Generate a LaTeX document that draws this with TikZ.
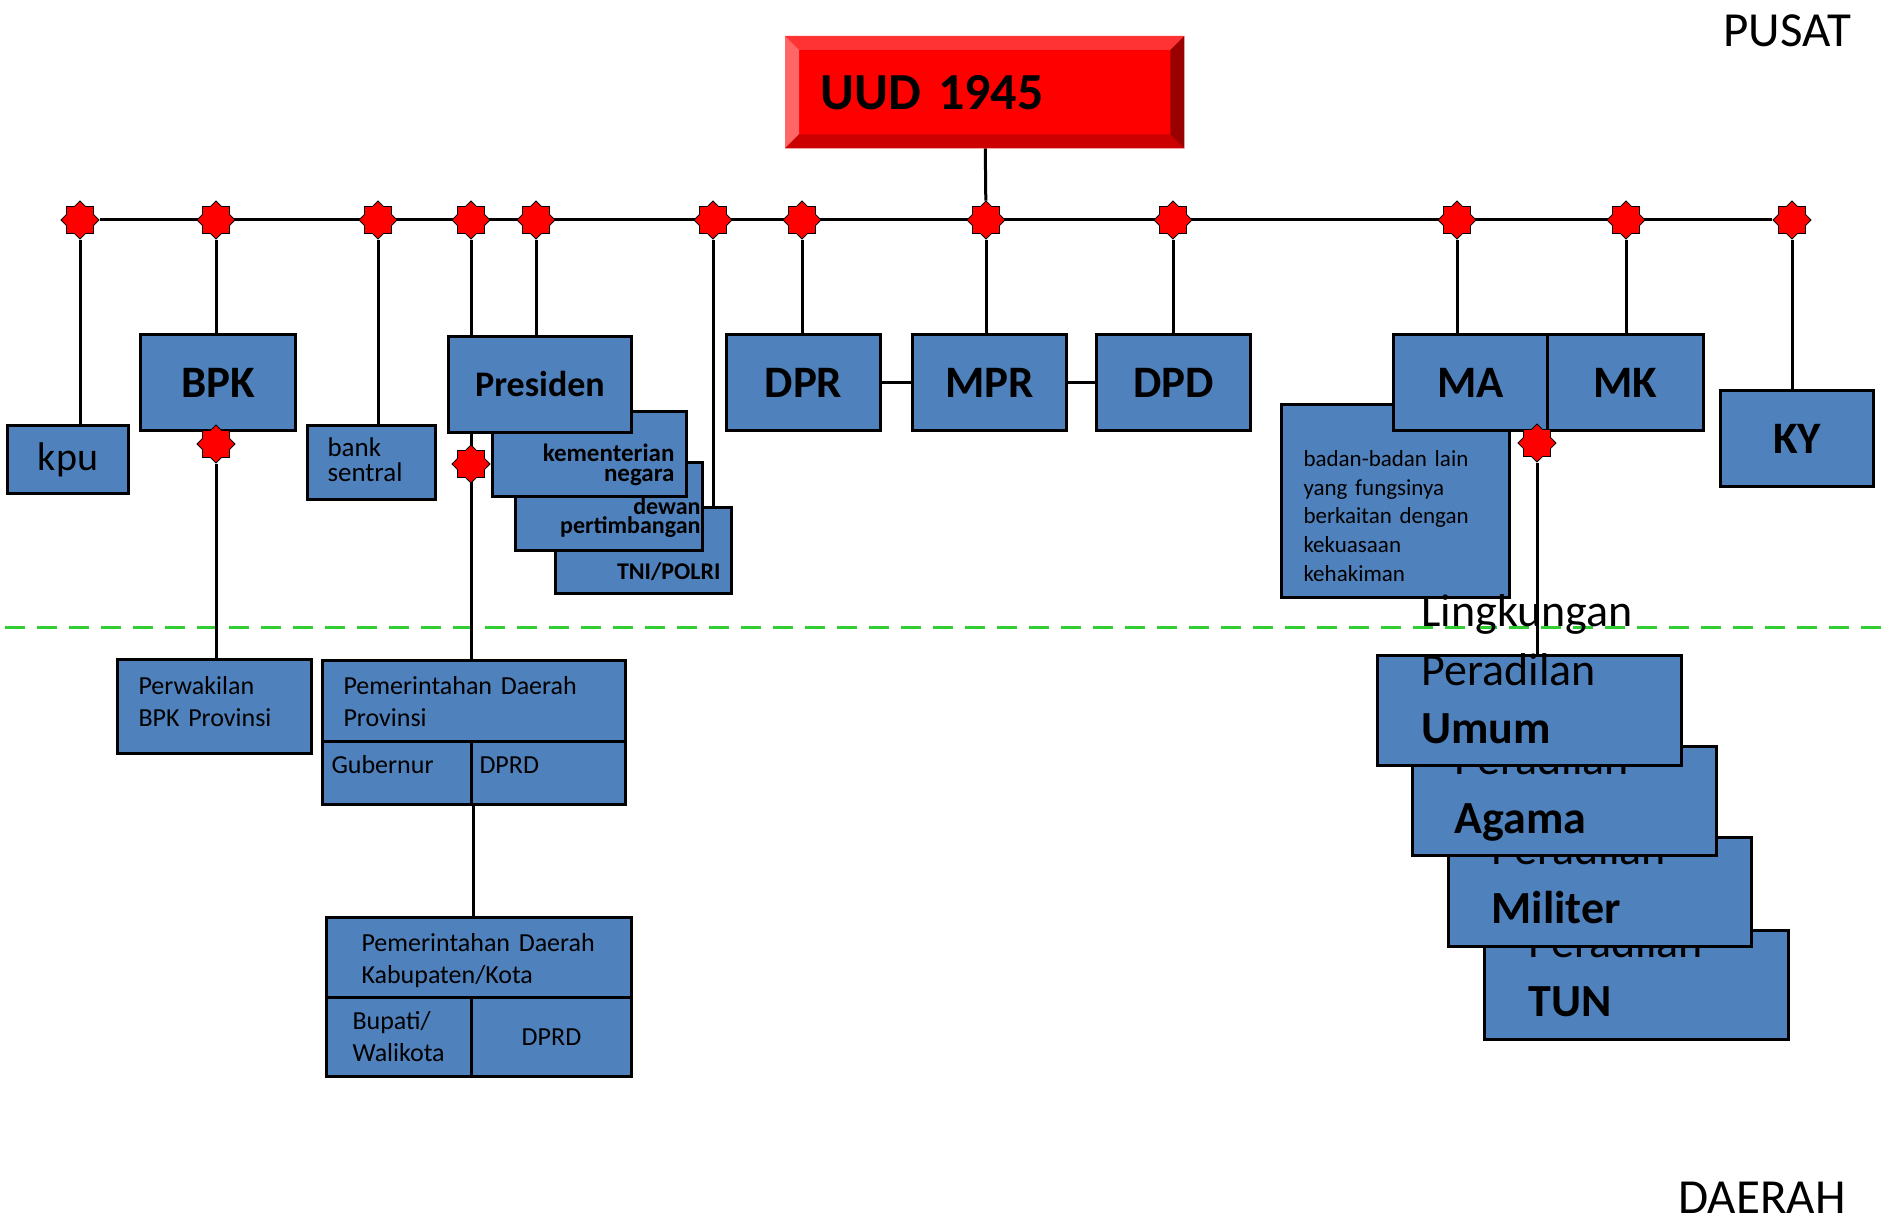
\documentclass[tikz,border=0pt]{standalone}
\usepackage{fontspec}
\setmainfont{Carlito}
\usetikzlibrary{shapes.geometric, backgrounds, calc}
\definecolor{kotak}{RGB}{79,129,189}
\definecolor{uudatas}{RGB}{255,51,51}
\definecolor{uudkiri}{RGB}{255,102,102}
\definecolor{uudbawah}{RGB}{204,0,0}
\definecolor{uudkanan}{RGB}{153,0,0}
\definecolor{batas}{RGB}{50,205,50}
\begin{document}
\begin{tikzpicture}[
    x=1pt, y=-1pt,
    box/.style={
        draw,
        fill=kotak,
        line width=3pt,
        anchor=north west,
        inner sep=0pt
    },
    big/.style={box, font=\fontsize{45}{54}\selectfont\bfseries},
    cell/.style={box, align=left},
    uudbox/.style={
        fill=red,
        anchor=north west,
        minimum width=399pt,
        minimum height=112pt,
        inner xsep=35pt,
        text width=329pt,
        align=left,
        font=\fontsize{52}{60}\selectfont\bfseries
    },
    bintang/.style={
        star,
        star points=8,
        star point ratio=1.3,
        minimum size=38pt,
        inner sep=0pt,
        fill=red,
        draw=black,
        line width=0.8pt
    },
    conn/.style={line width=3pt},
    wilayah/.style={anchor=base west, font=\fontsize{49}{58}\selectfont}
]
\useasboundingbox (0,0) rectangle (1883,1225);

% UUD 1945
\node[uudbox] (uud) at (785,36) {UUD 1945};
\fill[uudatas] (uud.north west) -- (uud.north east) -- ([shift={(-14,14)}]uud.north east) -- ([shift={(14,14)}]uud.north west) -- cycle;
\fill[uudkiri] (uud.north west) -- ([shift={(14,14)}]uud.north west) -- ([shift={(14,-14)}]uud.south west) -- (uud.south west) -- cycle;
\fill[uudbawah] (uud.south west) -- ([shift={(14,-14)}]uud.south west) -- ([shift={(-14,-14)}]uud.south east) -- (uud.south east) -- cycle;
\fill[uudkanan] (uud.north east) -- ([shift={(-14,14)}]uud.north east) -- ([shift={(-14,-14)}]uud.south east) -- (uud.south east) -- cycle;

\node[wilayah] (pusat) at (1720,47) {PUSAT};
\node[wilayah] (daerah) at (1675,1213) {DAERAH};

% pusat
\node[box, minimum width=121pt, minimum height=68pt, font=\fontsize{40}{48}\selectfont] (kpu) at (6,424) {kpu};
\node[big, minimum width=155pt, minimum height=96pt] (bpk) at (139,333) {BPK};
\node[cell, inner xsep=20pt, text width=88pt, text height=31pt, text depth=43pt,
      font=\fontsize{27}{25}\selectfont] (bank) at (306,424) {bank\\sentral};

\node[box, align=right, inner xsep=11pt, text width=154pt, text height=72pt, text depth=14pt,
      font=\fontsize{24}{19}\selectfont\bfseries] (tni) at (554,506) {TNI/POLRI};
\node[box, align=right, inner xsep=2pt, text width=183pt, text height=52pt, text depth=36pt,
      font=\fontsize{24}{19}\selectfont\bfseries] (dewan) at (514,461) {dewan\\pertimbangan};
\node[box, align=right, inner xsep=12pt, text width=170pt, text height=50pt, text depth=35pt,
      font=\fontsize{25}{20}\selectfont\bfseries] (kementerian) at (491,410) {kementerian\\negara};
\node[box, minimum width=183pt, minimum height=96pt, font=\fontsize{36}{43}\selectfont\bfseries] (presiden) at (447,335) {Presiden};

\node[big, minimum width=154pt, minimum height=96pt] (dpr) at (725,333) {DPR};
\node[big, minimum width=154pt, minimum height=96pt] (mpr) at (911,333) {MPR};
\node[big, minimum width=154pt, minimum height=96pt] (dpd) at (1095,333) {DPD};

\node[cell, inner xsep=22pt, text width=184pt, text height=62pt, text depth=131pt,
      font=\fontsize{23}{28.7}\selectfont] (badan) at (1280,403)
      {badan-badan lain\\yang fungsinya\\berkaitan dengan\\kekuasaan\\kehakiman};
\node[big, minimum width=154pt, minimum height=96pt] (ma) at (1392,333) {MA};
\node[big, minimum width=156pt, minimum height=96pt] (mk) at (1546,333) {MK};
\node[big, minimum width=153pt, minimum height=96pt] (ky) at (1719,389) {KY};

% daerah
\node[cell, inner xsep=21pt, text width=152pt, text height=35pt, text depth=59pt,
      font=\fontsize{26}{32}\selectfont] (perwakilan) at (116,658) {Perwakilan\\BPK Provinsi};

\node[cell, inner xsep=21pt, text width=261pt, text height=34pt, text depth=47pt,
      font=\fontsize{26}{32}\selectfont] (pdprov) at (321,659) {Pemerintahan Daerah\\Provinsi};
\node[cell, inner xsep=9pt, text width=131pt, text height=32pt, text depth=31pt,
      font=\fontsize{26}{32}\selectfont] (gubernur) at (321,740) {Gubernur};
\node[cell, inner xsep=8pt, text width=138pt, text height=32pt, text depth=31pt,
      font=\fontsize{26}{32}\selectfont] (dprdprov) at (470,740) {DPRD};

\node[cell, inner xsep=35pt, text width=235pt, text height=34pt, text depth=46pt,
      font=\fontsize{26}{32}\selectfont] (pdkab) at (325,916) {Pemerintahan Daerah\\Kabupaten/Kota};
\node[cell, inner xsep=26pt, text width=93pt, text height=32pt, text depth=47pt,
      font=\fontsize{26}{32}\selectfont] (bupati) at (325,996) {Bupati/\\Walikota};
\node[box, minimum width=160pt, minimum height=79pt,
      font=\fontsize{26}{32}\selectfont] (dprdkab) at (470,996) {DPRD};

% lingkungan peradilan
\node[cell, inner xsep=44pt, text width=216pt, text height=27pt, text depth=82pt,
      font=\fontsize{46}{58.5}\selectfont] (tun) at (1483,929) {Peradilan\\\textbf{TUN}};
\node[cell, inner xsep=43pt, text width=217pt, text height=27pt, text depth=82pt,
      font=\fontsize{46}{58.5}\selectfont] (militer) at (1447,836) {Peradilan\\\textbf{Militer}};
\node[cell, inner xsep=42pt, text width=220pt, text height=28pt, text depth=81pt,
      font=\fontsize{46}{58.5}\selectfont] (agama) at (1411,745) {Peradilan\\\textbf{Agama}};
\node[box, inner xsep=44pt, text height=0pt, text depth=110pt,
      font=\fontsize{46}{58.5}\selectfont] (umum) at (1376,654)
      {\raisebox{29pt}[0pt][0pt]{\parbox[t]{216pt}{Lingkungan\\Peradilan\\\textbf{Umum}}}};

% bintang
\node[bintang] (skpu) at (80,220) {};
\node[bintang] (sbpk) at (216,220) {};
\node[bintang] (sbank) at (378,220) {};
\node[bintang] (spres) at (471,220) {};
\node[bintang] (skem) at (536,220) {};
\node[bintang] (stni) at (713,220) {};
\node[bintang] (sdpr) at (802,220) {};
\node[bintang] (smpr) at (986,220) {};
\node[bintang] (sdpd) at (1173,220) {};
\node[bintang] (sma) at (1457,220) {};
\node[bintang] (smk) at (1626,220) {};
\node[bintang] (sky) at (1792,220) {};
\node[bintang] (sperwakilan) at (216,444) {};
\node[bintang] (spemda) at (471,464) {};
\node[bintang] (sperad) at (1537,443) {};

\coordinate (batas kiri) at (5,627);
\coordinate (batas kanan) at (1883,627);

\begin{scope}[on background layer]
\draw[line width=3pt, batas, dash pattern=on 20pt off 12pt] (batas kiri) -- (batas kanan);
\draw[conn] (uud) -- (smpr);
\draw[conn] (skpu) -- (sky);
\draw[conn] (skpu) -- (skpu |- kpu.north);
\draw[conn] (sbpk) -- (sbpk |- bpk.north);
\draw[conn] (sbank) -- (sbank |- bank.north);
\draw[conn] (spres) -- (spres |- pdprov.north);
\draw[conn] (skem) -- (skem |- presiden.north);
\draw[conn] (stni) -- (stni |- tni.north);
\draw[conn] (sdpr) -- (sdpr |- dpr.north);
\draw[conn] (smpr) -- (smpr |- mpr.north);
\draw[conn] (sdpd) -- (sdpd |- dpd.north);
\draw[conn] (sma) -- (sma |- ma.north);
\draw[conn] (smk) -- (smk |- mk.north);
\draw[conn] (sky) -- (sky |- ky.north);
\draw[conn] (dpr) -- (mpr);
\draw[conn] (mpr) -- (dpd);
\draw[conn] (sperwakilan) -- (sperwakilan |- perwakilan.north);
\draw[conn] (gubernur.south east) -- (gubernur.south east |- pdkab.north);
\draw[conn] (sperad) -- (sperad |- umum.north);
\end{scope}

\end{tikzpicture}
\end{document}
